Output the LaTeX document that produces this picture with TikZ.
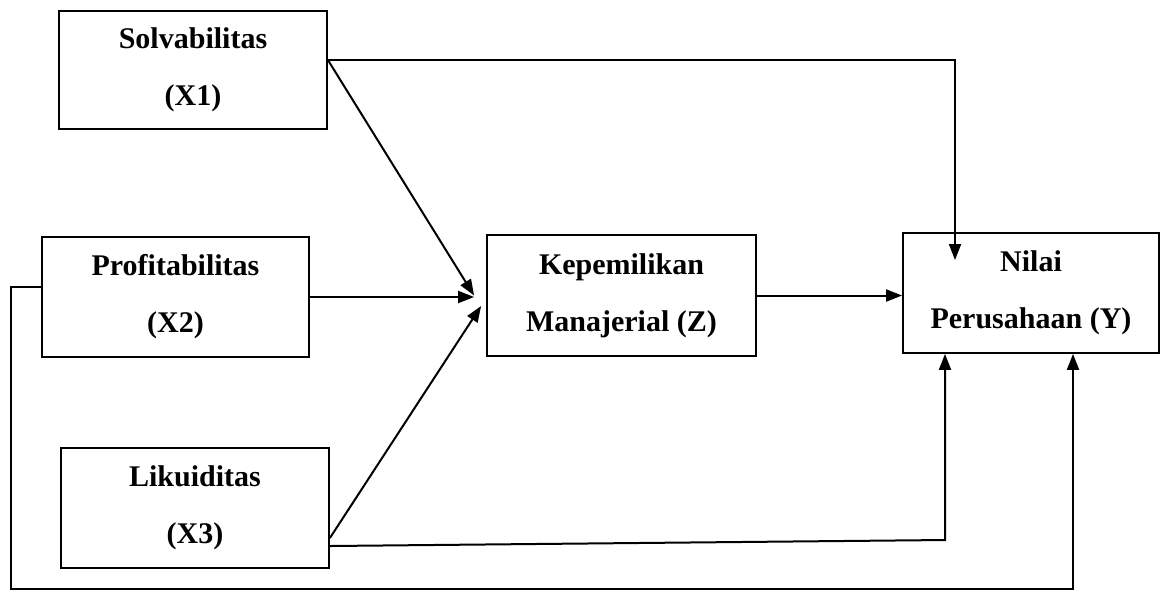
\documentclass[tikz,border=0pt]{standalone}
\usepackage{fontspec}
\setmainfont{Liberation Serif}
\usetikzlibrary{arrows.meta}
\tikzstyle{var} = [rectangle, draw=black, line width=0.9pt, align=center, inner sep=0pt, minimum height=60pt, font=\fontsize{15}{28.5}\selectfont\bfseries]
\tikzstyle{arrow} = [line width=1pt, -{Triangle[length=8pt,width=6pt]}]

\begin{document}
\begin{tikzpicture}[x=0.5pt, y=-0.5pt]
        \useasboundingbox (0,0) rectangle (1161,591);

        \node (x1) [var, minimum width=134pt, minimum height=59pt] at (193,70) {Solvabilitas\\(X1)};
        \node (x2) [var, minimum width=133.5pt] at (175.5,297) {Profitabilitas\\(X2)};
        \node (x3) [var, minimum width=134pt] at (195,508) {Likuiditas\\(X3)};
        \node (z) [var, minimum width=134.5pt, minimum height=60.5pt] at (621.5,295.5) {Kepemilikan\\Manajerial (Z)};
        \node (y) [var, minimum width=128pt] at (1031,293) {Nilai\\Perusahaan (Y)};

        % Titik bantu
        \coordinate (zin) at ([xshift=-6pt]z.west);
        \coordinate (zin3) at ([xshift=-2.5pt,yshift=-5.25pt]z.west);
        \coordinate (yin) at ([xshift=-38pt,yshift=16.5pt]y.center);
        \coordinate (belok) at (945,540);
        \coordinate (kiri) at (11,589);
        \coordinate (kanan) at (1073,589);

        % Panah
        \draw [arrow] ([yshift=5pt]x1.east) -- (zin);
        \draw [arrow] ([yshift=5pt]x1.east) -| (yin);
        \draw [arrow] (x2.east) -- (x2.east -| zin);
        \draw [arrow] ([yshift=-15pt]x3.east) -- (zin3);
        \draw [arrow] (z.east) -- (z.east -| y.west);
        \draw [arrow] ([yshift=-19pt]x3.east) -- (belok) -- (belok |- y.south);
        \draw [arrow] ([yshift=5pt]x2.west) -| (kiri) -- (kanan) -- (kanan |- y.south);

\end{tikzpicture}
\end{document}
